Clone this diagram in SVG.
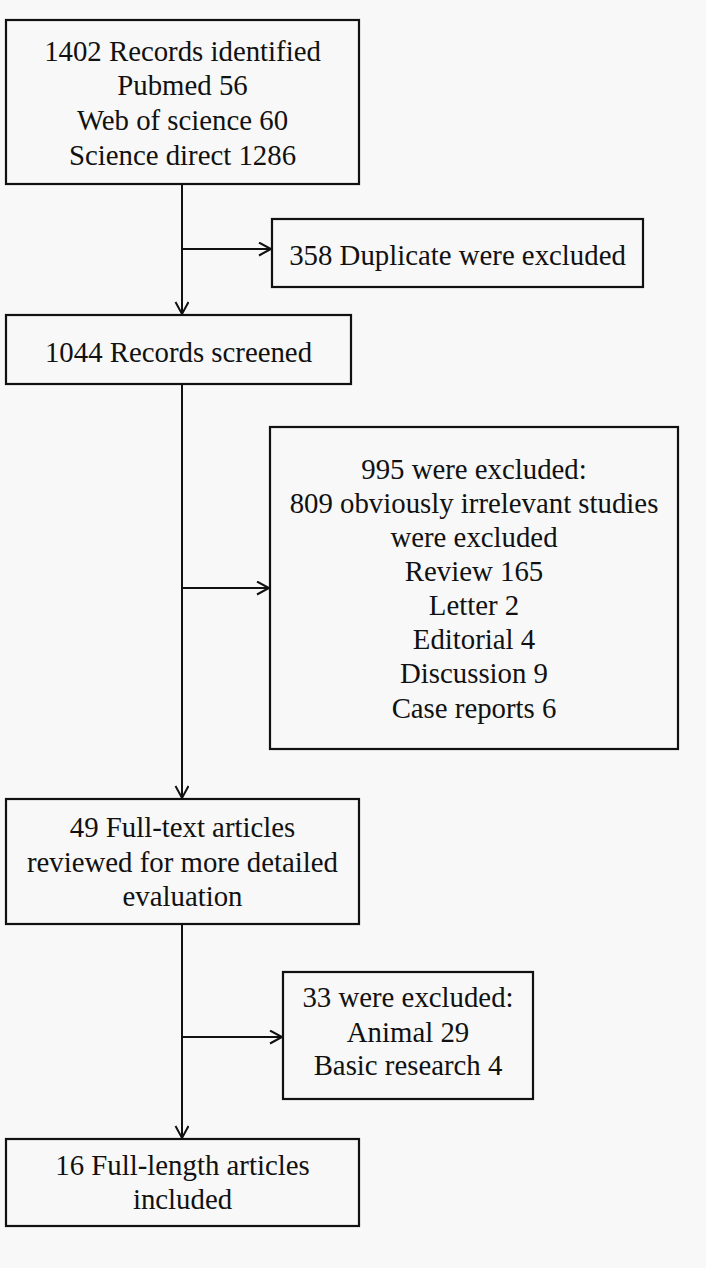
<svg xmlns="http://www.w3.org/2000/svg" width="706" height="1268" viewBox="0 0 706 1268">
<defs>
<style>
.box{fill:none;stroke:#111;stroke-width:2.2}
.t{font-family:"Liberation Serif","Times New Roman",serif;font-size:28.8px;fill:#111;text-anchor:middle}
.c{fill:none;stroke:#111;stroke-width:2}
</style>
<marker id="ah" markerUnits="userSpaceOnUse" markerWidth="16" markerHeight="16" refX="13" refY="7" orient="auto">
<path d="M1,0.5 L13,7 L1,13.5" fill="none" stroke="#111" stroke-width="2"/>
</marker>
</defs>
<rect width="706" height="1268" fill="#f8f8f8"/>
<g id="connectors">
<line class="c" x1="182" y1="184" x2="182" y2="314" marker-end="url(#ah)"/>
<line class="c" x1="182" y1="249" x2="271" y2="249" marker-end="url(#ah)"/>
<line class="c" x1="182" y1="384" x2="182" y2="798" marker-end="url(#ah)"/>
<line class="c" x1="182" y1="588" x2="269" y2="588" marker-end="url(#ah)"/>
<line class="c" x1="182" y1="924" x2="182" y2="1138" marker-end="url(#ah)"/>
<line class="c" x1="182" y1="1037" x2="282" y2="1037" marker-end="url(#ah)"/>
</g>
<g id="n1">
<rect class="box" x="6" y="20" width="353" height="164"/>
<text class="t" x="182.5" y="61">1402 Records identified</text>
<text class="t" x="182.5" y="95">Pubmed 56</text>
<text class="t" x="182.5" y="130">Web of science 60</text>
<text class="t" x="182.5" y="165">Science direct 1286</text>
</g>
<g id="n2">
<rect class="box" x="272" y="219" width="371" height="68"/>
<text class="t" x="457.5" y="265">358 Duplicate were excluded</text>
</g>
<g id="n3">
<rect class="box" x="6" y="315" width="345" height="69"/>
<text class="t" x="178.5" y="362">1044 Records screened</text>
</g>
<g id="n4">
<rect class="box" x="270" y="427" width="408" height="322"/>
<text class="t" x="474" y="479">995 were excluded:</text>
<text class="t" x="474" y="513">809 obviously irrelevant studies</text>
<text class="t" x="474" y="547">were excluded</text>
<text class="t" x="474" y="581">Review 165</text>
<text class="t" x="474" y="615">Letter 2</text>
<text class="t" x="474" y="649">Editorial 4</text>
<text class="t" x="474" y="683">Discussion 9</text>
<text class="t" x="474" y="718">Case reports 6</text>
</g>
<g id="n5">
<rect class="box" x="6" y="799" width="353" height="125"/>
<text class="t" x="182.5" y="837">49 Full-text articles</text>
<text class="t" x="182.5" y="872">reviewed for more detailed</text>
<text class="t" x="182.5" y="906">evaluation</text>
</g>
<g id="n6">
<rect class="box" x="283" y="972" width="250" height="127"/>
<text class="t" x="408" y="1007">33 were excluded:</text>
<text class="t" x="408" y="1042">Animal 29</text>
<text class="t" x="408" y="1075">Basic research 4</text>
</g>
<g id="n7">
<rect class="box" x="6" y="1139" width="353" height="87"/>
<text class="t" x="182.5" y="1175">16 Full-length articles</text>
<text class="t" x="182.5" y="1209">included</text>
</g>
</svg>
